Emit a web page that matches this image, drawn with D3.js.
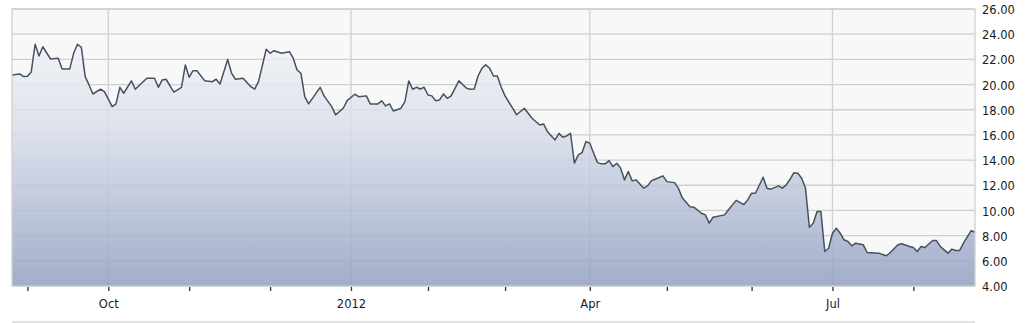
<!DOCTYPE html>
<html>
<head>
<meta charset="utf-8">
<script src="https://cdn.jsdelivr.net/npm/d3@7"></script>
<style>
    html, body { margin: 0; padding: 0; background: #fff; }
    svg { display: block; font-family: "DejaVu Sans", Tahoma, sans-serif; }
</style>
</head>
<body>
<div id="chart"></div>
<script>
// closing prices, sampled trading days
const tradeDates = [
    "2011-08-26","2011-08-30","2011-08-31","2011-09-01","2011-09-02","2011-09-06","2011-09-07","2011-09-08",
    "2011-09-12","2011-09-14","2011-09-15","2011-09-19","2011-09-20","2011-09-21","2011-09-22","2011-09-23",
    "2011-09-26","2011-09-27","2011-09-29","2011-09-30","2011-10-04","2011-10-05","2011-10-06","2011-10-07",
    "2011-10-11","2011-10-12","2011-10-17","2011-10-19","2011-10-20","2011-10-21","2011-10-24","2011-10-26",
    "2011-10-28","2011-10-31","2011-11-01","2011-11-02","2011-11-03","2011-11-07","2011-11-09","2011-11-10",
    "2011-11-11","2011-11-15","2011-11-16","2011-11-17","2011-11-21","2011-11-23","2011-11-25","2011-11-28",
    "2011-11-30","2011-12-01","2011-12-02","2011-12-06","2011-12-08","2011-12-09","2011-12-12","2011-12-13",
    "2011-12-14","2011-12-15","2011-12-20","2011-12-21","2011-12-23","2011-12-27","2011-12-29","2011-12-30",
    "2012-01-04","2012-01-05","2012-01-09","2012-01-10","2012-01-12","2012-01-13","2012-01-17","2012-01-18",
    "2012-01-19","2012-01-23","2012-01-24","2012-01-25","2012-01-26","2012-01-27","2012-01-30","2012-01-31",
    "2012-02-01","2012-02-02","2012-02-03","2012-02-06","2012-02-07","2012-02-08","2012-02-09","2012-02-13",
    "2012-02-15","2012-02-16","2012-02-17","2012-02-21","2012-02-22","2012-02-23","2012-02-24","2012-02-27",
    "2012-02-28","2012-02-29","2012-03-01","2012-03-05","2012-03-06","2012-03-08","2012-03-09","2012-03-12",
    "2012-03-14","2012-03-15","2012-03-16","2012-03-20","2012-03-21","2012-03-22","2012-03-23","2012-03-26",
    "2012-03-27","2012-03-28","2012-03-29","2012-03-30","2012-04-02","2012-04-03","2012-04-04","2012-04-05",
    "2012-04-09","2012-04-10","2012-04-11","2012-04-12","2012-04-13","2012-04-16","2012-04-17","2012-04-18",
    "2012-04-19","2012-04-23","2012-04-24","2012-04-25","2012-04-26","2012-04-30","2012-05-01","2012-05-03",
    "2012-05-04","2012-05-07","2012-05-09","2012-05-10","2012-05-14","2012-05-15","2012-05-16","2012-05-17",
    "2012-05-22","2012-05-23","2012-05-25","2012-05-30","2012-05-31","2012-06-01","2012-06-04","2012-06-06",
    "2012-06-07","2012-06-08","2012-06-12","2012-06-13","2012-06-14","2012-06-15","2012-06-18","2012-06-19",
    "2012-06-20","2012-06-21","2012-06-22","2012-06-25","2012-06-26","2012-06-27","2012-06-28","2012-06-29",
    "2012-07-02","2012-07-03","2012-07-05","2012-07-06","2012-07-09","2012-07-10","2012-07-11","2012-07-13",
    "2012-07-16","2012-07-19","2012-07-23","2012-07-24","2012-07-26","2012-07-27","2012-07-31","2012-08-01",
    "2012-08-02","2012-08-03","2012-08-06","2012-08-08","2012-08-09","2012-08-10","2012-08-13","2012-08-14",
    "2012-08-15","2012-08-16","2012-08-17","2012-08-20","2012-08-22","2012-08-23"
];
const closes = [
    20.76, 20.84, 20.63, 20.66, 21.00, 23.20, 22.27, 23.00,
    22.03, 22.09, 21.24, 21.24, 22.48, 23.20, 22.96, 20.63,
    19.97, 19.25, 19.63, 19.44, 18.25, 18.46, 19.78, 19.31,
    20.29, 19.63, 20.50, 20.50, 19.78, 20.37, 20.42, 19.39,
    19.78, 21.56, 20.58, 21.10, 21.10, 20.31, 20.23, 20.42,
    20.05, 22.00, 20.90, 20.42, 20.50, 19.83, 19.63, 20.23,
    22.80, 22.48, 22.69, 22.48, 22.61, 22.09, 21.16, 20.90,
    19.04, 18.46, 19.78, 19.10, 18.25, 17.59, 18.12, 18.72,
    19.23, 19.04, 19.10, 18.46, 18.46, 18.70, 18.30, 18.46,
    17.90, 18.12, 18.64, 20.29, 19.63, 19.78, 19.65, 19.78,
    19.17, 19.10, 18.72, 18.78, 19.25, 18.91, 19.10, 20.29,
    19.71, 19.63, 19.65, 20.68, 21.29, 21.56, 21.29, 20.68,
    20.68, 19.78, 19.10, 18.10, 17.60, 18.12, 17.72, 17.32,
    16.79, 16.87, 16.26, 15.60, 16.13, 15.81, 15.92, 16.13,
    13.75, 14.41, 14.60, 15.47, 15.34, 14.55, 13.80, 13.70,
    13.70, 13.96, 13.48, 13.75, 13.36, 12.43, 13.09, 12.35,
    12.43, 11.77, 11.95, 12.37, 12.48, 12.75, 12.29, 12.21,
    11.77, 11.00, 10.30, 10.26, 9.78, 9.65, 8.99, 9.46,
    9.65, 10.05, 10.80, 10.47, 10.84, 11.37, 11.37, 12.64,
    11.77, 11.69, 11.95, 11.77, 12.03, 12.48, 13.00, 12.96,
    12.56, 11.77, 8.67, 8.99, 9.91, 9.91, 6.74, 7.00,
    8.19, 8.59, 8.19, 7.67, 7.53, 7.19, 7.40, 7.27,
    6.66, 6.61, 6.40, 6.66, 7.27, 7.35, 7.14, 7.06,
    6.74, 7.14, 7.06, 7.61, 7.61, 7.14, 6.87, 6.61,
    6.93, 6.82, 6.82, 7.40, 8.40, 8.27
];
const holidays = ["2011-09-05","2011-11-24","2011-12-26","2012-01-02","2012-01-16",
                  "2012-02-20","2012-04-06","2012-05-28","2012-07-04"];
const monthTicks = ["2011-09-01","2011-10-03","2011-11-01","2011-12-01","2012-01-03","2012-02-01",
                    "2012-03-01","2012-04-02","2012-05-01","2012-06-01","2012-07-02","2012-08-01"];
const yTicks = [4, 6, 8, 10, 12, 14, 16, 18, 20, 22, 24, 26];

const parse = d3.timeParse("%Y-%m-%d");
const origin = parse("2011-08-01");
const holidayDates = holidays.map(parse);

// position on a trading-day axis (weekends and holidays skipped)
function tradeIndex(d) {
    const days = d3.timeDay.count(origin, d);
    const weekend = d3.timeSaturday.count(origin, d) + d3.timeSunday.count(origin, d);
    const hol = holidayDates.filter(h => h >= origin && h < d).length;
    return days - weekend - hol;
}

const data = tradeDates.map((s, i) => ({date: parse(s), value: closes[i]}));

const width = 1028, height = 323;
const plot = {left: 12, right: 975, top: 9, bottom: 286};

const svg = d3.select("#chart").append("svg")
    .attr("width", width)
    .attr("height", height);

const x = d3.scaleLinear()
    .domain(d3.extent(data, d => tradeIndex(d.date)))
    .range([plot.left, plot.right]);

const y = d3.scaleLinear()
    .domain([4, 26])
    .range([plot.bottom, plot.top]);

const defs = svg.append("defs");
defs.append("linearGradient")
    .attr("id", "areaGradient")
    .attr("gradientUnits", "userSpaceOnUse")
    .attr("x1", 0).attr("y1", plot.top)
    .attr("x2", 0).attr("y2", plot.bottom)
    .selectAll("stop")
    .data([
        {offset: "0%", color: "#fafbfc"},
        {offset: "45%", color: "#d6dce8"},
        {offset: "100%", color: "#8e9dc0"}
    ])
    .enter().append("stop")
    .attr("offset", d => d.offset)
    .attr("stop-color", d => d.color);

// plot background
svg.append("rect")
    .attr("x", plot.left)
    .attr("y", plot.top)
    .attr("width", plot.right - plot.left)
    .attr("height", plot.bottom - plot.top)
    .attr("fill", "#f8f8f8");

// grid
const grid = svg.append("g").attr("stroke", "#d0d0d0").attr("stroke-width", 1.3);
grid.selectAll(".hgrid")
    .data(yTicks)
    .enter().append("line")
    .attr("x1", plot.left).attr("x2", plot.right)
    .attr("y1", d => y(d)).attr("y2", d => y(d));

const tickDates = monthTicks.map(parse);
const quarterTicks = tickDates.filter(d => d.getMonth() % 3 === 0);
grid.selectAll(".vgrid")
    .data(quarterTicks)
    .enter().append("line")
    .attr("x1", d => x(tradeIndex(d))).attr("x2", d => x(tradeIndex(d)))
    .attr("y1", plot.top).attr("y2", plot.bottom);

// area + line
const area = d3.area()
    .x(d => x(tradeIndex(d.date)))
    .y0(plot.bottom)
    .y1(d => y(d.value));

const line = d3.line()
    .x(d => x(tradeIndex(d.date)))
    .y(d => y(d.value));

svg.append("path")
    .datum(data)
    .attr("d", area)
    .attr("fill", "url(#areaGradient)")
    .attr("fill-opacity", 0.82);

svg.append("path")
    .datum(data)
    .attr("d", line)
    .attr("fill", "none")
    .attr("stroke", "#46515f")
    .attr("stroke-width", 1.5)
    .attr("stroke-linejoin", "round");

// frame
svg.append("rect")
    .attr("x", plot.left)
    .attr("y", plot.top)
    .attr("width", plot.right - plot.left)
    .attr("height", plot.bottom - plot.top)
    .attr("fill", "none")
    .attr("stroke", "#d0d0d0")
    .attr("stroke-width", 1.3);

svg.append("line")
    .attr("x1", plot.left).attr("x2", plot.right)
    .attr("y1", 322).attr("y2", 322)
    .attr("stroke", "#d8d8d8")
    .attr("stroke-width", 1.3);

// x axis
const monthFmt = d3.timeFormat("%b");
const xAxis = svg.append("g")
    .attr("transform", `translate(0,${plot.bottom})`)
    .call(d3.axisBottom(x)
        .tickValues(tickDates.map(tradeIndex))
        .tickSize(5)
        .tickPadding(9)
        .tickFormat((v, i) => {
            const d = tickDates[i];
            if (d.getMonth() % 3 !== 0) return "";
            return d.getMonth() === 0 ? d3.timeFormat("%Y")(d) : monthFmt(d);
        }));
xAxis.select(".domain").remove();
xAxis.selectAll(".tick line").attr("stroke", "#333").attr("stroke-width", 1.3).attr("y1", 1);
xAxis.selectAll(".tick text").attr("fill", "#1a1a1a").style("font-size", "11.5px")
    .style("font-family", "'DejaVu Sans', Tahoma, sans-serif");

// y axis on the right
const yAxis = svg.append("g")
    .attr("transform", `translate(${plot.right},0)`)
    .call(d3.axisRight(y)
        .tickValues(yTicks)
        .tickSize(0)
        .tickPadding(7)
        .tickFormat(d3.format(".2f")));
yAxis.select(".domain").remove();
yAxis.selectAll(".tick text").attr("fill", "#1a1a1a").attr("dy", "0.4em").style("font-size", "11.5px")
    .style("font-family", "'DejaVu Sans', Tahoma, sans-serif");
</script>
</body>
</html>
